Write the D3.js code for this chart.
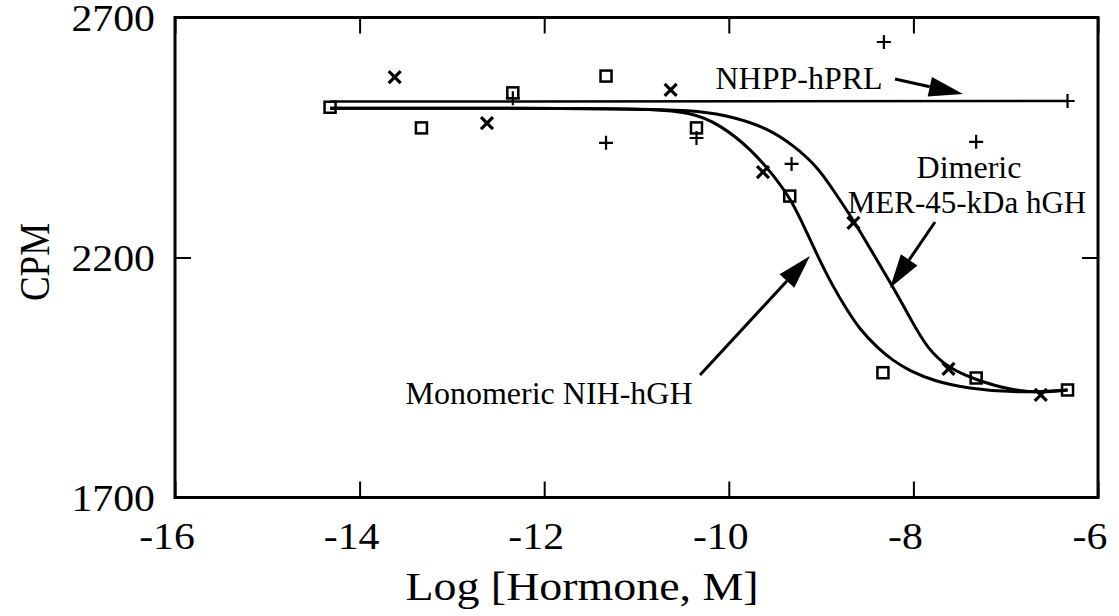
<!DOCTYPE html>
<html><head><meta charset="utf-8">
<script src="https://cdn.jsdelivr.net/npm/d3@7"></script>
<style>body{margin:0;background:#fff}svg{display:block}</style>
</head><body><svg id="c" width="1119" height="616"></svg>
<script>
// ---- data ----
const xTicks = [-16, -14, -12, -10, -8, -6];
const yTicks = [1700, 2200, 2700];
const squareX = [-14.32, -13.33, -12.34, -11.33, -10.35, -9.34, -8.33, -7.32, -6.33];
const squareY = [2513, 2470, 2543, 2578, 2470, 2328, 1960, 1949, 1924];
const crossX = [-13.62, -12.62, -10.63, -9.63, -8.65, -7.62, -6.62];
const crossY = [2576, 2480, 2549, 2378, 2272, 1968, 1914];
const plusX = [-12.34, -11.33, -10.35, -9.32, -8.32, -7.32, -6.33];
const plusY = [2532, 2439, 2449, 2395, 2649, 2441, 2526];
const prlLineX = [-14.32, -6.33];
const prlLineY = [2525, 2526];
const monoX = [-14.32, -11.40, -10.85, -10.42, -10.10, -9.75, -9.52, -9.32, -9.15, -9.01, -8.87, -8.72, -8.58, -8.39, -8.22, -8.05, -7.77, -7.40, -6.96, -6.60, -6.33];
const monoY = [2511, 2511, 2509, 2503, 2478, 2424, 2372, 2320, 2250, 2192, 2139, 2091, 2050, 2012, 1985, 1965, 1942, 1927, 1920, 1920, 1924];
const dimX = [-14.32, -10.85, -10.31, -9.95, -9.59, -9.30, -9.04, -8.87, -8.65, -8.44, -8.22, -8.03, -7.85, -7.61, -7.32, -6.96, -6.60, -6.33];
const dimY = [2511, 2511, 2505, 2493, 2470, 2434, 2389, 2341, 2278, 2209, 2138, 2072, 2010, 1968, 1945, 1924, 1918, 1924];

const FONT = 'Tinos, Times, serif';
const svg = d3.select("#c");
const L = 175, R = 1098, T = 17.5, B = 497.5;
const x = d3.scaleLinear().domain([-16, -6]).range([L, R]);
const y = d3.scaleLinear().domain([1700, 2700]).range([B, T]);

function txt(s, px, py, size, anchor, sx) {
  const g = svg.append("g").attr("transform", `translate(${px},${py}) scale(${sx || 1},1)`);
  g.append("text").style("font-family", FONT).attr("font-size", size).attr("text-anchor", anchor || "middle").text(s);
  return g;
}

// axes (inward ticks, mirrored)
const tl = 16;
const xb = d3.axisBottom(x).tickValues(xTicks).tickSize(-tl).tickFormat("");
const xt = d3.axisTop(x).tickValues(xTicks).tickSize(-tl).tickFormat("");
const yl = d3.axisLeft(y).tickValues(yTicks).tickSize(-tl).tickFormat("");
const yr = d3.axisRight(y).tickValues(yTicks).tickSize(-tl).tickFormat("");
[[xb, `translate(0,${B})`], [xt, `translate(0,${T})`], [yl, `translate(${L},0)`], [yr, `translate(${R},0)`]].forEach(([a, t]) => {
  const g = svg.append("g").attr("transform", t).call(a);
  g.select(".domain").remove();
  g.selectAll("line").attr("stroke", "#000").attr("stroke-width", 2);
});
svg.append("rect").attr("x", L).attr("y", T).attr("width", R - L).attr("height", B - T)
  .attr("fill", "none").attr("stroke", "#000").attr("stroke-width", 3);

xTicks.forEach(v => txt(String(v), x(v) - 8, 549, 37, "middle", 1.13));
yTicks.forEach(v => txt(String(v), 155, y(v) + 13, 37, "end", 1.13));
txt("Log [Hormone, M]", 582, 600, 41, "middle", 1.12);
svg.append("text").attr("transform", "translate(49,262) rotate(-90) scale(1,1.13)")
  .style("font-family", FONT).attr("font-size", 37).attr("text-anchor", "middle").text("CPM");

// lines
const line = d3.line().x(d => x(d[0])).y(d => y(d[1])).curve(d3.curveBasis);
svg.append("path").attr("d", d3.line().x(d => x(d[0])).y(d => y(d[1]))(prlLineX.map((v, i) => [v, prlLineY[i]])))
  .attr("fill", "none").attr("stroke", "#000").attr("stroke-width", 2.5);
svg.append("path").attr("d", line(monoX.map((v, i) => [v, monoY[i]])))
  .attr("fill", "none").attr("stroke", "#000").attr("stroke-width", 3);
svg.append("path").attr("d", line(dimX.map((v, i) => [v, dimY[i]])))
  .attr("fill", "none").attr("stroke", "#000").attr("stroke-width", 3);

// markers
const sq = 11;
squareX.forEach((v, i) => svg.append("rect").attr("x", x(v) - sq / 2).attr("y", y(squareY[i]) - sq / 2)
  .attr("width", sq).attr("height", sq).attr("fill", "none").attr("stroke", "#000").attr("stroke-width", 2.5));
crossX.forEach((v, i) => {
  const cx = x(v), cy = y(crossY[i]), h = 6;
  svg.append("path").attr("d", `M${cx - h},${cy - h}L${cx + h},${cy + h}M${cx - h},${cy + h}L${cx + h},${cy - h}`)
    .attr("stroke", "#000").attr("stroke-width", 3.2);
});
plusX.forEach((v, i) => {
  const cx = x(v), cy = y(plusY[i]), h = 7;
  svg.append("path").attr("d", `M${cx - h},${cy}L${cx + h},${cy}M${cx},${cy - h}L${cx},${cy + h}`)
    .attr("stroke", "#000").attr("stroke-width", 2.2);
});

// arrows
function arrow(x1, y1, x2, y2) {
  const a = Math.atan2(y2 - y1, x2 - x1), hl = 34, hw = 10;
  const bx = x2 - hl * Math.cos(a), by = y2 - hl * Math.sin(a);
  svg.append("line").attr("x1", x1).attr("y1", y1).attr("x2", bx).attr("y2", by).attr("stroke", "#000").attr("stroke-width", 3);
  const px = -Math.sin(a) * hw, py = Math.cos(a) * hw;
  svg.append("path").attr("d", `M${x2},${y2}L${bx + px},${by + py}L${bx - px},${by - py}Z`).attr("fill", "#000");
}
arrow(895, 79, 963, 94);
arrow(935, 222, 890, 288);
arrow(700, 375, 810, 256);

// annotations
txt("NHPP-hPRL", 799, 89, 32);
txt("Dimeric", 969, 178, 32);
txt("MER-45-kDa hGH", 967, 213, 31);
txt("Monomeric NIH-hGH", 549, 404, 32);
</script></body></html>
